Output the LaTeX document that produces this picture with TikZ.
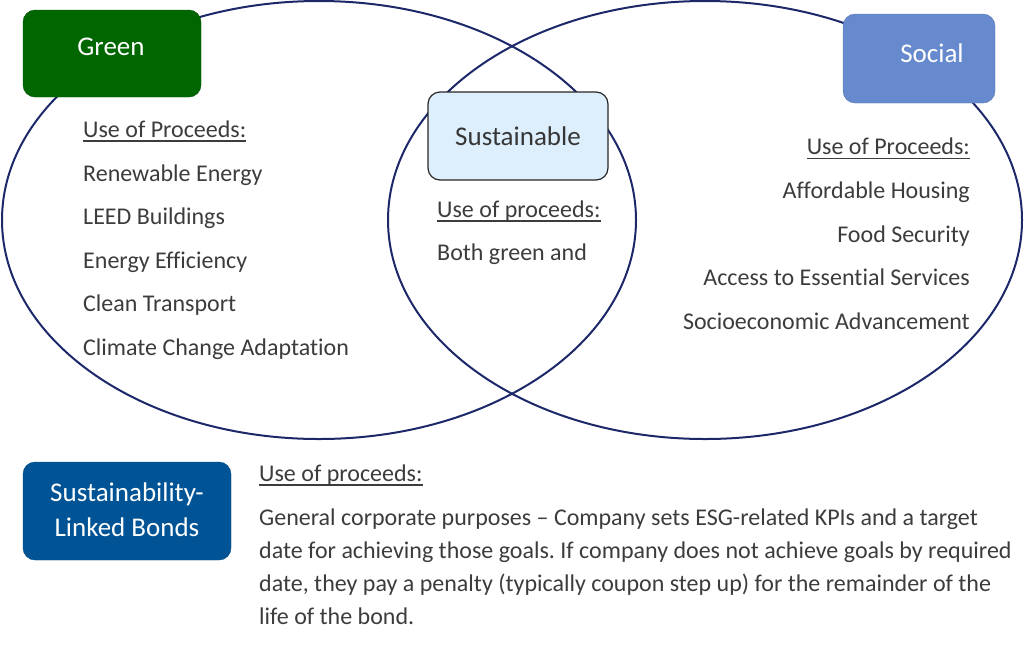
\documentclass[tikz,border=0pt]{standalone}
\usepackage{fontspec}
\setmainfont{Carlito}[Ligatures=NoCommon]
\usetikzlibrary{calc}
\definecolor{navy}{RGB}{28,40,105}
\definecolor{txt}{RGB}{60,60,60}
\definecolor{greenfill}{RGB}{0,102,0}
\definecolor{socialfill}{RGB}{102,138,205}
\definecolor{susfill}{RGB}{221,238,252}
\definecolor{slbfill}{RGB}{0,84,150}
\frenchspacing
\begin{document}
\begin{tikzpicture}[x=1pt,y=-1pt,
  ring/.style={draw=navy,line width=2pt},
  boxbase/.style={rectangle,rounded corners=12pt,inner sep=0pt},
  greenbox/.style={boxbase,fill=greenfill,draw=greenfill!80!black,minimum width=178pt,minimum height=87pt},
  socialbox/.style={boxbase,fill=socialfill,draw=socialfill!85!black,minimum width=152pt,minimum height=89pt},
  susbox/.style={boxbase,fill=susfill,draw=black!85,line width=1.2pt,minimum width=180pt,minimum height=88pt},
  slbbox/.style={boxbase,fill=slbfill,draw=slbfill!85!black,minimum width=208pt,minimum height=98pt},
  boxtext/.style={inner sep=0pt,font=\fontsize{27}{35}\selectfont,align=center},
  body/.style={inner sep=0pt,text=txt,font=\fontsize{24}{29}\selectfont},
  lw/.style={body,anchor=base west},
  le/.style={body,anchor=base east},
  uline/.style={draw=txt,line width=1.2pt}
]
\useasboundingbox (0,0) rectangle (1024,646);
% rings
\draw[ring] (319,220) ellipse [x radius=317pt, y radius=219pt];
\draw[ring] (705,220) ellipse [x radius=317pt, y radius=219pt];
% boxes
\node[greenbox] (green) at (112,53.5) {};
\node[boxtext,text=white] (greent) at (111,47) {Green};
\node[socialbox] (social) at (919,58.5) {};
\node[boxtext,text=white] (socialt) at (932,53) {Social};
\node[susbox] (sus) at (518,136) {};
\node[boxtext,text=txt!90!black] (sust) at (518,136) {Sustainable};
\node[slbbox] (slb) at (127,511) {};
\node[boxtext,text=white] (slbt) at (127,510) {Sustainability-\\Linked Bonds};
% green list
\node[lw] (gu) at (83,137) {Use of Proceeds:};
\draw[uline] ($(gu.base west)+(0,4)$) -- ($(gu.base east)+(0,4)$);
\node[lw] (g1) at (83,181.5) {Renewable Energy};
\node[lw] (g2) at (83,224.5) {LEED Buildings};
\node[lw] (g3) at (83,268.5) {Energy Efficiency};
\node[lw] (g4) at (83,311.5) {Clean Transport};
\node[lw] (g5) at (83,355.5) {Climate Change Adaptation};
% sustainable
\node[lw] (su) at (437,217) {Use of proceeds:};
\draw[uline] ($(su.base west)+(0,4)$) -- ($(su.base east)+(0,4)$);
\node[lw] (s1) at (437,260) {Both green and};
% social list
\node[le] (ru) at (970,154.5) {Use of Proceeds:};
\draw[uline] ($(ru.base west)+(0,4)$) -- ($(ru.base east)+(0,4)$);
\node[le] (r1) at (970,198) {Affordable Housing};
\node[le] (r2) at (970,242) {Food Security};
\node[le] (r3) at (970,285) {Access to Essential Services};
\node[le] (r4) at (970,329) {Socioeconomic Advancement};
% SLB text
\node[lw] (bu) at (259,481.5) {Use of proceeds:};
\draw[uline] ($(bu.base west)+(0,3.5)$) -- ($(bu.base east)+(0,3.5)$);
\node[lw] (b1) at (259,525) {General corporate purposes – Company sets ESG-related KPIs and a target};
\node[lw] (b2) at (259,558) {date for achieving those goals. If company does not achieve goals by required};
\node[lw] (b3) at (259,591) {date, they pay a penalty (typically coupon step up) for the remainder of the};
\node[lw] (b4) at (259,624) {life of the bond.};
\end{tikzpicture}
\end{document}
